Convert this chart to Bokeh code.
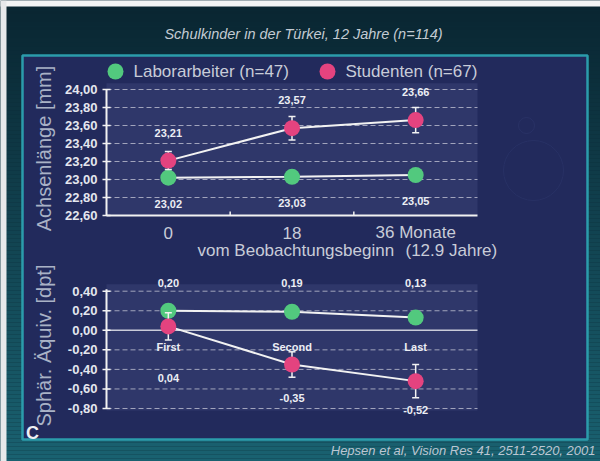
import numpy as np
from bokeh.plotting import figure
from bokeh.models import Range1d
from bokeh.core.properties import value
from bokeh.embed import file_html
from bokeh.resources import INLINE

# ---------------- data ----------------
months = [0, 18, 36]
month_labels = ["0", "18", "36 Monate"]
visit_labels = ["First", "Second", "Last"]

axial_workers = [23.02, 23.03, 23.05]
axial_workers_err = [0.02, 0.02, 0.02]
axial_students = [23.21, 23.57, 23.66]
axial_students_err = [0.10, 0.13, 0.14]

refr_workers = [0.20, 0.19, 0.13]
refr_workers_err = [0.02, 0.02, 0.02]
refr_students = [0.04, -0.35, -0.52]
refr_students_err = [0.14, 0.13, 0.17]

axial_ticks = [22.60, 22.80, 23.00, 23.20, 23.40, 23.60, 23.80, 24.00]
refr_ticks = [0.40, 0.20, 0.00, -0.20, -0.40, -0.60, -0.80]
month_bounds = [-9, 9, 27, 45]

group_names = ["Laborarbeiter (n=47)", "Studenten (n=67)"]

# ---------------- layout / style ----------------
W, H = 600, 461
GREEN = "#52c97e"
PINK = "#e4437f"
LINE = "#f2f2f2"
PANEL = "#222a5c"
PLOT_BG = "#2f376a"
FONT = value("Liberation Sans")

# pixel anchors of the two charts inside the canvas
X_PIX = ((-9, 106), (45, 477))
AX_PIX = ((24.00, 89), (22.60, 215))
RF_PIX = ((0.40, 290.7), (-0.80, 408))


def fit_range(anchor, lo_px, hi_px):
    (v0, p0), (v1, p1) = anchor
    k = (v1 - v0) / (p1 - p0)
    return Range1d(start=v0 + (lo_px - p0) * k, end=v0 + (hi_px - p0) * k)


def fmt(v):
    return f"{v:.2f}".replace(".", ",")


p = figure(width=W, height=H, x_range=Range1d(0, W), y_range=Range1d(H, 0),
           x_axis_type=None, y_axis_type=None, min_border=0,
           toolbar_location=None, output_backend="svg",
           outline_line_color=None, background_fill_color="#0c2d39",
           border_fill_color="#0c2d39")
p.extra_x_ranges = {"m": fit_range(X_PIX, 0, W)}
p.extra_y_ranges = {"ax": fit_range(AX_PIX, H, 0), "rf": fit_range(RF_PIX, H, 0)}

# ---------------- backdrop ----------------
c0 = np.array([10, 38, 50])
c1 = np.array([26, 98, 113])
bands = np.arange(6, H, 4)
t = (bands - 6) / (H - 6)
cols = ["#%02x%02x%02x" % tuple((c0 + (c1 - c0) * tt).astype(int)) for tt in t]
p.quad(left=0, right=W, top=bands, bottom=bands + 4, fill_color=cols, line_color=None)
p.quad(left=0, right=W, top=0, bottom=6, fill_color="#f3f4f5", line_color=None)
p.quad(left=0, right=6, top=0, bottom=H, fill_color="#e7e9eb", line_color=None)

# inner panel
p.quad(left=22, right=587, top=55, bottom=439, fill_color=PANEL,
       line_color="#2b9cab", line_width=2.5)
p.circle(x=[526, 533], y=[125, 170], radius=[8, 30], fill_color=None,
         line_color="#3a4680", line_alpha=0.25, line_width=1)

# title & citation
p.text(x=[303], y=[33], text=["Schulkinder in der Türkei, 12 Jahre (n=114)"],
       text_font=FONT, text_font_style="italic", text_font_size="14.5px",
       text_color="#c3cbd3", text_align="center", text_baseline="middle")
p.text(x=[595], y=[450], text=["Hepsen et al, Vision Res 41, 2511-2520, 2001"],
       text_font=FONT, text_font_style="italic", text_font_size="13px",
       text_color="#bcc6d2", text_align="right", text_baseline="middle")

# legend
p.scatter(x=[115, 327], y=[71, 71], size=16, fill_color=[GREEN, PINK], line_color=None)
p.text(x=[133, 345], y=[71, 71], text=group_names, text_font=FONT,
       text_font_size="17px", text_color="#c8ccd8", text_baseline="middle")

# axis titles
p.text(x=[43, 43], y=[148, 345], text=["Achsenlänge [mm]", "Sphär. Äquiv. [dpt]"],
       angle=np.pi / 2, text_font=FONT, text_font_size="20px", text_color="#a9b2c6",
       text_align="center", text_baseline="middle")
p.text(x=[197, 405], y=[250, 250], text=["vom Beobachtungsbeginn", "(12.9 Jahre)"],
       text_font=FONT, text_font_size="17px", text_color="#c8ccd8",
       text_baseline="middle")
p.text(x=[32], y=[432], text=["C"], text_font=FONT, text_font_style="bold",
       text_font_size="18px", text_color="#eef0f4", text_align="center",
       text_baseline="middle")


def chart(yname, ticks, dashed, axis_top, bg_top, bg_bottom):
    kw = dict(x_range_name="m", y_range_name=yname)
    x0, x1 = month_bounds[0], month_bounds[-1]
    p.quad(left=x0, right=x1, top=bg_top, bottom=bg_bottom,
           fill_color=PLOT_BG, line_color=None, **kw)
    n = len(dashed)
    p.segment(x0=[x0] * n, x1=[x1] * n, y0=dashed, y1=dashed, line_color="white",
              line_alpha=0.55, line_width=1, line_dash="5 3", **kw)
    p.segment(x0=[x0], x1=[x0], y0=[min(ticks)], y1=[axis_top],
              line_color=LINE, line_width=2, **kw)
    p.scatter(x=[x0] * len(ticks), y=ticks, marker="dash", size=8,
              line_color=LINE, line_width=1.5, **kw)
    p.text(x=[x0] * len(ticks), y=ticks, text=[fmt(v) for v in ticks],
           x_offset=-9, text_font=FONT, text_font_style="bold",
           text_font_size="13px", text_color="#e4e6ee", text_align="right",
           text_baseline="middle", **kw)
    return kw


def series(kw, vals, errs, color):
    lo = [v - e for v, e in zip(vals, errs)]
    hi = [v + e for v, e in zip(vals, errs)]
    p.line(months, vals, line_color=LINE, line_width=2, **kw)
    p.segment(x0=months, x1=months, y0=lo, y1=hi, line_color=LINE, line_width=1.5, **kw)
    p.scatter(x=months * 2, y=lo + hi, marker="dash", size=7,
              line_color=LINE, line_width=1.5, **kw)
    p.scatter(x=months, y=vals, size=16, fill_color=color, line_color=None, **kw)


def labels(kw, xs, ys, texts, yoff, size="11px"):
    p.text(x=xs, y=ys, text=texts, y_offset=yoff, text_font=FONT,
           text_font_style="bold", text_font_size=size, text_color="#eceef4",
           text_align="center", text_baseline="middle", **kw)


# ---------------- axial length ----------------
kw = chart("ax", axial_ticks, axial_ticks[1:], 24.00, 24.07, 22.60)
p.segment(x0=[month_bounds[0]], x1=[month_bounds[-1]], y0=[22.60], y1=[22.60],
          line_color=LINE, line_width=2, **kw)
p.segment(x0=month_bounds[1:3], x1=month_bounds[1:3], y0=[22.60] * 2,
          y1=[22.645] * 2, line_color=LINE, line_width=1.5, **kw)
p.text(x=months, y=[22.60] * 3, text=month_labels, y_offset=17, text_font=FONT,
       text_font_size="17px", text_color="#c8ccd8", text_align="center",
       text_baseline="middle", **kw)
series(kw, axial_workers, axial_workers_err, GREEN)
series(kw, axial_students, axial_students_err, PINK)
labels(kw, months, axial_workers, [fmt(v) for v in axial_workers], 26)
labels(kw, months, axial_students, [fmt(v) for v in axial_students], -28)

# ---------------- spherical equivalent ----------------
kw = chart("rf", refr_ticks, [v for v in refr_ticks if v != 0], 0.42, 0.47, -0.82)
p.segment(x0=[month_bounds[0]], x1=[month_bounds[-1]], y0=[0.0], y1=[0.0],
          line_color="white", line_alpha=0.75, line_width=1.5, **kw)
series(kw, refr_workers, refr_workers_err, GREEN)
series(kw, refr_students, refr_students_err, PINK)
labels(kw, months, [refr_ticks[0]] * 3, [fmt(v) for v in refr_workers], -8)
p.text(x=months, y=refr_students, text=[fmt(v) for v in refr_students],
       y_offset=[52, 33, 29], text_font=FONT, text_font_style="bold",
       text_font_size="11px", text_color="#eceef4", text_align="center",
       text_baseline="middle", **kw)
labels(kw, months, [-0.175] * 3, visit_labels, 0)

open("out.html", "w").write(file_html(p, INLINE))
